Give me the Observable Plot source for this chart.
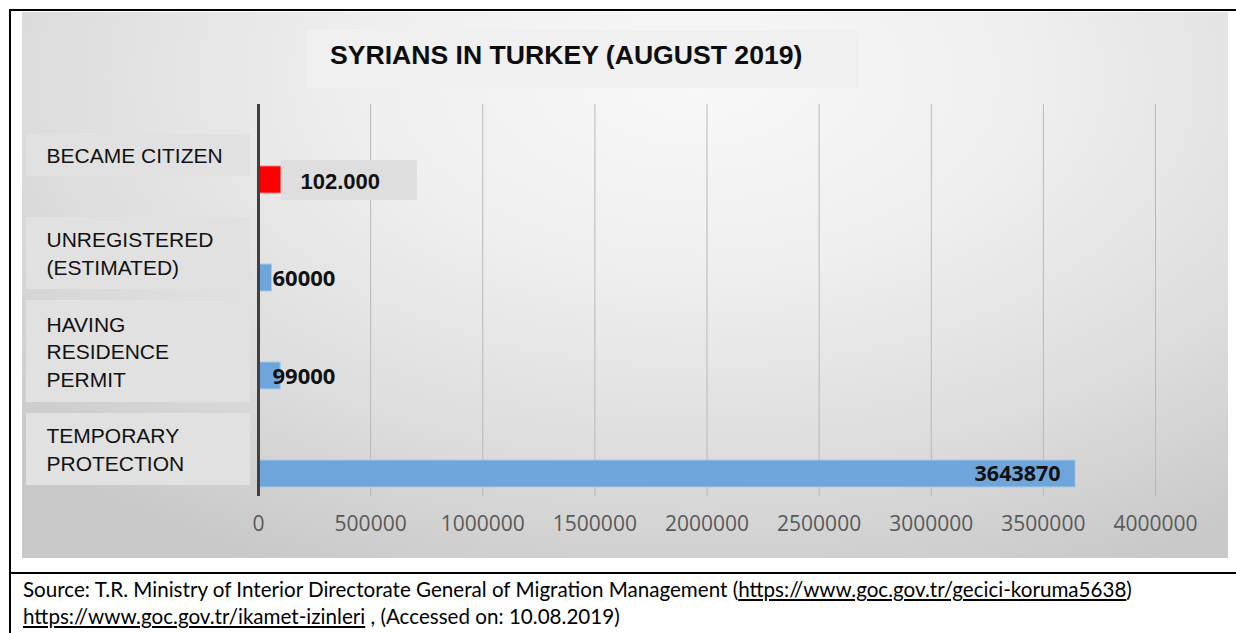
<!DOCTYPE html>
<html>
<head>
<meta charset="utf-8">
<script src="https://cdn.jsdelivr.net/npm/d3@7"></script>
<script src="https://cdn.jsdelivr.net/npm/@observablehq/plot@0.6"></script>
<style>
  body { margin: 0; background: #fff; }
  #page { position: relative; width: 1236px; height: 633px; overflow: hidden; background: #fff; }
  .line { position: absolute; background: #000; }
  #bg { position: absolute; left: 22px; top: 12px; width: 1206px; height: 546px;
        background: radial-gradient(ellipse 78% 100% at 56% 12%, #f8f8f8 0%, #efefef 35%, #dddddd 70%, #c8c8c8 100%); }
  #titlebox { position: absolute; left: 307px; top: 30px; width: 552px; height: 58px; background: #f0f0f0; }
  #title { position: absolute; left: 330px; top: 42px; font: bold 26.6px "Liberation Sans", Arial, sans-serif; line-height: 1; color: #0d0d0d; white-space: nowrap; }
  #chart { position: absolute; left: 0; top: 0; }
  #source { position: absolute; left: 23px; top: 576px; font: 20.6px Lato, "Open Sans", sans-serif; line-height: 27px; color: #000; white-space: nowrap; }
  #source u { text-decoration: underline; }
</style>
</head>
<body>
<div id="page">
  <div id="bg"></div>
  <div id="titlebox"></div>
  <div id="title"></div>
  <div id="chart"></div>
  <div class="line" style="left:9px;top:9px;width:2px;height:624px"></div>
  <div class="line" style="left:9px;top:9px;width:1227px;height:2px"></div>
  <div class="line" style="left:9px;top:572px;width:1227px;height:2px"></div>
  <div id="source"></div>
</div>
<script>
// ---- data ----
const titleText = "SYRIANS IN TURKEY (AUGUST 2019)";
const categories = ["BECAME CITIZEN", "UNREGISTERED\n(ESTIMATED)", "HAVING\nRESIDENCE\nPERMIT", "TEMPORARY\nPROTECTION"];
const values = [102000, 60000, 99000, 3643870];
const valueLabels = ["102.000", "60000", "99000", "3643870"];
const highlighted = "BECAME CITIZEN";
const xTicks = [0, 500000, 1000000, 1500000, 2000000, 2500000, 3000000, 3500000, 4000000];
const sourceLine1 = ["Source: T.R. Ministry of Interior Directorate General of Migration Management (", "https://www.goc.gov.tr/gecici-koruma5638", ")"];
const sourceLine2 = ["https://www.goc.gov.tr/ikamet-izinleri", " , (Accessed on: 10.08.2019)"];

const rows = categories.map((c, i) => ({category: c, value: values[i], label: valueLabels[i]}));

document.getElementById("title").textContent = titleText;
const src = document.getElementById("source");
src.innerHTML = "";
const l1 = document.createElement("div");
l1.append(sourceLine1[0]);
const u1 = document.createElement("u"); u1.textContent = sourceLine1[1]; l1.append(u1);
l1.append(sourceLine1[2]);
const l2 = document.createElement("div");
const u2 = document.createElement("u"); u2.textContent = sourceLine2[0]; l2.append(u2);
l2.append(sourceLine2[1]);
src.append(l1, l2);

function bandInfo(scales, dimensions) {
  const y = scales.y;
  let bw;
  if (typeof y.bandwidth === "function") bw = y.bandwidth();
  else if (scales.scales && scales.scales.y && typeof scales.scales.y.bandwidth === "number") bw = scales.scales.y.bandwidth;
  else bw = (dimensions.height - dimensions.marginTop - dimensions.marginBottom) / categories.length;
  return bw;
}

// boxes behind the category labels (left margin)
function categoryBoxes(index, scales, values_, dimensions) {
  const g = d3.create("svg:g");
  const bw = bandInfo(scales, dimensions);
  const left = dimensions.marginLeft;
  rows.forEach(r => {
    const lines = r.category.split("\n").length;
    const h = lines * 30 + 12;
    const cy = scales.y(r.category) + bw / 2 + 2;
    g.append("rect")
      .attr("x", left - 232).attr("width", 224)
      .attr("y", cy - h / 2).attr("height", h)
      .attr("fill", "#e1e1e1");
  });
  return g.node();
}

// box behind the highlighted value label
function highlightBox(index, scales, values_, dimensions) {
  const g = d3.create("svg:g");
  rows.filter(r => r.category === highlighted).forEach(r => {
    const x0 = scales.x(r.value);
    const y0 = scales.y(r.category);
    g.append("rect")
      .attr("x", x0).attr("width", 136)
      .attr("y", y0 + 56).attr("height", 40)
      .attr("fill", "#dedede");
  });
  return g.node();
}

const chart = Plot.plot({
  width: 1236,
  height: 560,
  marginLeft: 258,
  marginRight: 81,
  marginTop: 104,
  marginBottom: 64,
  style: {background: "transparent", overflow: "visible"},
  x: {domain: [0, 4000000], axis: null},
  y: {domain: categories, padding: 0, axis: null},
  marks: [
    Plot.gridX(xTicks, {stroke: "#b8b8b8", strokeOpacity: 1, strokeWidth: 1}),
    categoryBoxes,
    Plot.text(rows, {
      y: "category", text: "category", frameAnchor: "left", textAnchor: "start", lineAnchor: "middle",
      dx: -212, dy: 1, fontSize: 21, lineHeight: 1.33, fill: "#111",
      fontFamily: "Liberation Sans, Arial, sans-serif"
    }),
    Plot.barX(rows.filter(r => r.category !== highlighted), {
      y: "category", x: "value", fill: "#6ea5da", stroke: "#a8c9ec", strokeWidth: 1,
      insetTop: 62, insetBottom: 9
    }),
    Plot.barX(rows.filter(r => r.category === highlighted), {
      y: "category", x: "value", fill: "#ff0000", stroke: "#ff7a7a", strokeWidth: 1,
      insetTop: 62, insetBottom: 9
    }),
    Plot.ruleX([0], {stroke: "#404040", strokeWidth: 3}),
    highlightBox,
    Plot.text(rows.filter(r => r.category === highlighted), {
      y: "category", text: "label", frameAnchor: "left", textAnchor: "start",
      dx: 42, dy: 28, fontSize: 22, fontWeight: "bold", fill: "#111",
      fontFamily: "Liberation Sans, Arial, sans-serif"
    }),
    Plot.text(rows.filter(r => r.category !== highlighted && r.value < 1000000), {
      y: "category", text: "label", frameAnchor: "left", textAnchor: "start",
      dx: 14, dy: 27, fontSize: 22, fontWeight: "bold", fill: "#111",
      fontFamily: "Noto Sans, Open Sans, sans-serif"
    }),
    Plot.text(rows.filter(r => r.value >= 1000000), {
      y: "category", x: "value", text: "label", textAnchor: "end",
      dx: -15, dy: 27, fontSize: 21.5, fontWeight: "bold", fill: "#111",
      fontFamily: "Noto Sans, Open Sans, sans-serif"
    }),
    Plot.axisX(xTicks, {
      anchor: "bottom", tickSize: 0, tickPadding: 20, fontSize: 21, label: null,
      color: "#595959", fontFamily: "Open Sans, Noto Sans, sans-serif",
      tickFormat: d => String(d)
    })
  ]
});
document.getElementById("chart").append(chart);
</script>
</body>
</html>
